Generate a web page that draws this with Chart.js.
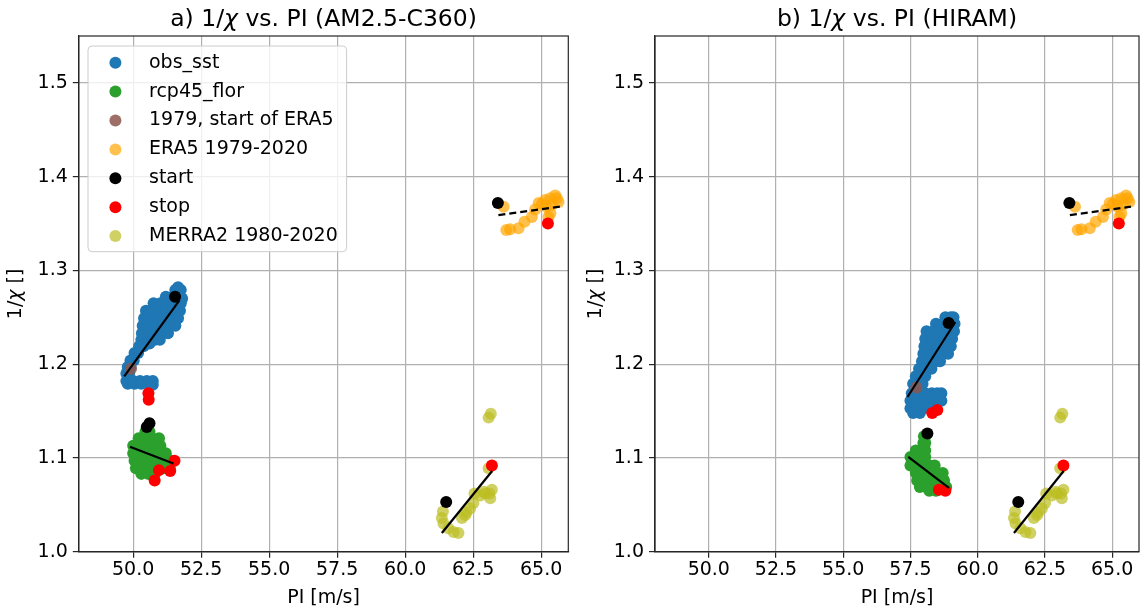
<!DOCTYPE html>
<html>
<head>
<meta charset="utf-8">
<script src="https://cdn.jsdelivr.net/npm/chart.js@4.4.1/dist/chart.umd.min.js"></script>
<style>
  body { margin: 0; background: #fff; }
  #wrap { position: relative; width: 1145px; height: 611px; }
  canvas { position: absolute; top: 0; }
</style>
</head>
<body>
<div id="wrap">
  <canvas id="panelA" width="575" height="611" style="left:0"></canvas>
  <canvas id="panelB" width="570" height="611" style="left:575px"></canvas>
</div>
<script>
// ---------- data: [PI (m/s), 1/chi] ----------
const xTicks = [50, 52.5, 55, 57.5, 60, 62.5, 65];
const yTicks = [1.0, 1.1, 1.2, 1.3, 1.4, 1.5];

// a) AM2.5-C360
const amObs = [
  [51.55,1.279],[51.75,1.279],[51.65,1.282],
  [51.2,1.272],[51.45,1.272],[51.7,1.272],[51.8,1.270],
  [50.75,1.265],[51.0,1.265],[51.25,1.265],[51.5,1.265],[51.75,1.265],
  [50.47,1.257],[50.7,1.257],[50.95,1.257],[51.2,1.257],[51.45,1.257],[51.72,1.257],
  [50.4,1.249],[50.65,1.249],[50.9,1.249],[51.15,1.249],[51.4,1.249],[51.65,1.249],
  [50.35,1.241],[50.6,1.241],[50.85,1.241],[51.1,1.241],[51.35,1.241],[51.55,1.241],
  [50.32,1.233],[50.55,1.233],[50.8,1.233],[51.05,1.233],[51.28,1.233],
  [50.3,1.226],[50.55,1.226],[50.8,1.226],[50.98,1.226],
  [50.22,1.219],[50.38,1.219],[50.6,1.222],
  [50.05,1.212],[50.18,1.212],
  [49.9,1.204],[50.02,1.204],
  [49.8,1.197],[49.9,1.197],
  [49.75,1.190],[49.85,1.190],
  [49.75,1.182],[50.0,1.182],[50.25,1.182],[50.5,1.182],[50.72,1.182],
  [49.8,1.179],[50.05,1.179],[50.3,1.179],[50.55,1.179],[50.72,1.178]
];
const amBrown = [[49.92,1.195]];
const amObsStart = [[51.54,1.272]];
const amObsStop = [[50.56,1.169],[50.57,1.162]];
const amRcp = [
  [50.45,1.128],[50.6,1.128],
  [50.2,1.121],[50.45,1.121],[50.7,1.121],[50.95,1.121],
  [50.0,1.113],[50.25,1.113],[50.5,1.113],[50.75,1.113],[51.0,1.113],
  [50.0,1.105],[50.25,1.105],[50.5,1.105],[50.75,1.105],[51.0,1.105],[51.2,1.105],
  [50.05,1.097],[50.3,1.097],[50.55,1.097],[50.8,1.097],[51.05,1.097],[51.3,1.097],[51.4,1.097],
  [50.1,1.089],[50.35,1.089],[50.6,1.089],[50.85,1.089],[51.1,1.089],[51.35,1.089],
  [50.3,1.083],[50.55,1.083],[50.8,1.083]
];
const amRcpStart = [[50.5,1.133],[50.6,1.137]];
const amRcpStop = [[50.95,1.087],[50.79,1.076],[51.52,1.097],[51.36,1.086]];
const amObsFit = [[49.67,1.187],[51.70,1.268]];
const amRcpFit = [[49.88,1.112],[51.48,1.094]];

// b) HIRAM
const hiObs = [
  [58.8,1.250],[59.0,1.250],[59.1,1.250],
  [58.45,1.243],[58.7,1.243],[58.95,1.243],[59.14,1.243],
  [58.1,1.235],[58.35,1.235],[58.6,1.235],[58.85,1.235],[59.12,1.235],
  [58.05,1.227],[58.3,1.227],[58.55,1.227],[58.8,1.227],[59.05,1.227],
  [58.02,1.219],[58.27,1.219],[58.52,1.219],[58.77,1.219],[59.0,1.219],
  [57.98,1.211],[58.23,1.211],[58.48,1.211],[58.73,1.211],[58.9,1.211],
  [57.93,1.203],[58.18,1.203],[58.43,1.203],[58.6,1.203],
  [57.82,1.195],[58.05,1.195],[58.28,1.195],
  [57.7,1.187],[57.9,1.187],[58.05,1.187],
  [57.6,1.179],[57.8,1.179],[57.95,1.179],
  [57.55,1.169],[57.8,1.169],[58.05,1.169],[58.3,1.169],[58.5,1.169],[58.65,1.169],
  [57.5,1.161],[57.75,1.161],[58.0,1.161],[58.25,1.161],[58.5,1.161],[58.65,1.161],
  [57.5,1.153],[57.75,1.153],[58.0,1.153],[58.25,1.153],[58.45,1.153],
  [57.6,1.148],[57.85,1.148]
];
const hiBrown = [[57.72,1.175]];
const hiObsStart = [[58.92,1.244]];
const hiObsStop = [[58.31,1.148],[58.5,1.151]];
const hiRcpStartUnder = [[58.01,1.112]];
const hiRcp = [
  [58.0,1.123],[58.05,1.123],
  [57.98,1.116],[58.05,1.116],
  [57.7,1.108],[57.95,1.108],[58.05,1.108],
  [57.5,1.101],[57.75,1.101],[58.0,1.101],[58.05,1.101],
  [57.5,1.092],[57.75,1.092],[58.0,1.092],[58.2,1.092],[58.4,1.092],
  [57.7,1.084],[57.95,1.084],[58.2,1.084],[58.45,1.084],[58.7,1.084],
  [57.75,1.076],[58.0,1.076],[58.25,1.076],[58.5,1.076],[58.75,1.076],
  [57.85,1.069],[58.1,1.069],[58.35,1.069],[58.6,1.069],[58.83,1.069],
  [58.2,1.065],[58.45,1.065]
];
const hiRcpStart = [[58.13,1.126]];
const hiRcpStop = [[58.56,1.066],[58.80,1.065]];
const hiObsFit = [[57.39,1.165],[59.17,1.245]];
const hiRcpFit = [[57.42,1.101],[58.93,1.068]];

// reanalyses (same in both panels)
const era5 = [
  [63.62,1.368],[63.72,1.343],[63.86,1.344],[64.17,1.345],[64.39,1.352],[64.66,1.357],
  [64.78,1.365],[64.91,1.372],[65.03,1.371],[65.15,1.375],[65.21,1.368],[65.34,1.377],
  [65.40,1.370],[65.52,1.380],[65.64,1.373],[65.58,1.377],[65.34,1.361],[65.27,1.357]
];
const era5Start = [[63.41,1.372]];
const era5Stop = [[65.25,1.350]];
const era5Fit = [[63.43,1.359],[65.70,1.368]];
const merra = [
  [63.15,1.147],[63.07,1.143],[63.07,1.089],[63.19,1.066],[63.13,1.057],[63.1,1.062],
  [62.95,1.062],[62.9,1.064],[62.76,1.060],[62.55,1.062],[62.51,1.052],[62.39,1.046],
  [62.25,1.042],[62.21,1.039],[62.09,1.036],[61.96,1.020],[61.78,1.021],[61.59,1.025],
  [61.41,1.030],[61.35,1.036],[61.39,1.043]
];
const merraStart = [[61.51,1.053]];
const merraStop = [[63.19,1.092]];
const merraFit = [[61.35,1.020],[63.20,1.086]];

// ---------- styles ----------
const FONT = 'DejaVu Sans';
const C_OBS = '#1f77b4', C_RCP = '#2ca02c', C_BROWN = 'rgba(140,86,75,0.85)';
const C_ERA5 = 'rgba(255,165,0,0.7)', C_MERRA = 'rgba(188,189,34,0.7)';

const legendItems = [
  ['obs_sst', C_OBS], ['rcp45_flor', C_RCP], ['1979, start of ERA5', C_BROWN],
  ['ERA5 1979-2020', C_ERA5], ['start', '#000'], ['stop', '#ff0000'], ['MERRA2 1980-2020', C_MERRA]
];

function pts(arr) { return arr.map(p => ({ x: p[0], y: p[1] })); }

function dots(arr, color) {
    return { data: pts(arr), backgroundColor: color, borderWidth: 0, pointRadius: 6, pointHoverRadius: 6 };
}
function fit(arr, dashed) {
    return { data: pts(arr), showLine: true, borderColor: '#000', borderWidth: 2.2,
             borderDash: dashed ? [7, 4] : [], pointRadius: 0, fill: false };
}

// bottom -> top; Chart.js draws high "order" first
function stack(list) {
    return list.map((d, i) => Object.assign(d, { order: list.length - i }));
}

function drawText(ctx, parts, x, y, size, align) {
    let w = 0;
    parts.forEach(p => { ctx.font = (p[1] ? 'italic ' : '') + size + 'px "' + FONT + '"'; w += ctx.measureText(p[0]).width; });
    let cx = align === 'center' ? x - w / 2 : x;
    ctx.textAlign = 'left';
    parts.forEach(p => {
        ctx.font = (p[1] ? 'italic ' : '') + size + 'px "' + FONT + '"';
        ctx.fillText(p[0], cx, y);
        cx += ctx.measureText(p[0]).width;
    });
}

function framePlugin(opts) {
    return {
        id: 'frame',
        afterDraw(chart) {
            const ctx = chart.ctx, a = chart.chartArea;
            ctx.save();
            ctx.strokeStyle = '#262626';
            ctx.lineWidth = 1.2;
            ctx.strokeRect(a.left, a.top, a.right - a.left, a.bottom - a.top);

            ctx.fillStyle = '#000';
            ctx.textBaseline = 'alphabetic';
            const cx = (a.left + a.right) / 2;
            drawText(ctx, opts.title, cx, 25.5, 23.5, 'center');
            drawText(ctx, [['PI [m/s]', false]], cx, 602.5, 19, 'center');

            ctx.save();
            ctx.translate(opts.yLabelX, (a.top + a.bottom) / 2);
            ctx.rotate(-Math.PI / 2);
            ctx.textBaseline = 'middle';
            drawText(ctx, [['1/', false], ['χ', true], [' []', false]], 0, 0, 19, 'center');
            ctx.restore();

            if (opts.legend) {
                ctx.fillStyle = 'rgba(255,255,255,0.8)';
                ctx.strokeStyle = '#cccccc';
                ctx.lineWidth = 1;
                ctx.beginPath();
                ctx.roundRect(88, 46, 258.6, 205.7, 4);
                ctx.fill();
                ctx.stroke();
                ctx.textBaseline = 'middle';
                legendItems.forEach((it, i) => {
                    const y = 62.7 + i * 28.9;
                    ctx.fillStyle = it[1];
                    ctx.beginPath();
                    ctx.arc(115.4, y, 6, 0, Math.PI * 2);
                    ctx.fill();
                    ctx.fillStyle = '#000';
                    ctx.font = '19px "' + FONT + '"';
                    ctx.fillText(it[0], 149, y);
                });
            }
            ctx.restore();
        }
    };
}

function makePanel(id, opts) {
    const ctx = document.getElementById(id).getContext('2d');
    const tickFont = { family: FONT, size: 19 };
    const grid = { color: '#b0b0b0', lineWidth: 1.2, tickColor: '#262626', tickLength: 6, tickWidth: 1.2 };
    return new Chart(ctx, {
        type: 'scatter',
        data: { datasets: opts.datasets },
        options: {
            responsive: false,
            animation: false,
            devicePixelRatio: 1,
            layout: { padding: { left: 0, top: 36, right: opts.padRight, bottom: 0 } },
            plugins: { legend: { display: false }, tooltip: { enabled: false }, title: { display: false } },
            scales: {
                x: {
                    type: 'linear', min: 48, max: 66,
                    afterBuildTicks: ax => { ax.ticks = xTicks.map(v => ({ value: v })); },
                    afterFit: ax => { ax.height = 59.3; },
                    ticks: { font: tickFont, color: '#000', padding: 1, autoSkip: false, maxRotation: 0,
                             callback: v => v.toFixed(1) },
                    grid: grid,
                    border: { display: true, color: '#262626', width: 1.2 }
                },
                y: {
                    type: 'linear', min: 1.0, max: 1.55,
                    afterBuildTicks: ax => { ax.ticks = yTicks.map(v => ({ value: v })); },
                    afterFit: ax => { ax.width = opts.yAxisWidth; },
                    ticks: { font: tickFont, color: '#000', padding: 5, callback: v => v.toFixed(1) },
                    grid: grid,
                    border: { display: true, color: '#262626', width: 1.2 }
                }
            }
        },
        plugins: [framePlugin(opts)]
    });
}

function reanalysisSets() {
    return [
        dots(era5, C_ERA5), dots(era5Start, '#000'), dots(era5Stop, '#ff0000'),
        dots(merra, C_MERRA), dots(merraStart, '#000'), dots(merraStop, '#ff0000'),
        fit(era5Fit, true), fit(merraFit, false)
    ];
}

makePanel('panelA', {
    padRight: 6.7, yAxisWidth: 78.8, yLabelX: 16.5, legend: true,
    title: [['a) 1/', false], ['χ', true], [' vs. PI (AM2.5-C360)', false]],
    datasets: stack([
        dots(amObs, C_OBS), dots(amBrown, C_BROWN), dots(amObsStart, '#000'), dots(amObsStop, '#ff0000'),
        dots(amRcp, C_RCP), dots(amRcpStart, '#000'), dots(amRcpStop, '#ff0000'),
        fit(amObsFit, false), fit(amRcpFit, false)
    ].concat(reanalysisSets()))
});

makePanel('panelB', {
    padRight: 0.7, yAxisWidth: 80, yLabelX: 20.7, legend: false,
    title: [['b) 1/', false], ['χ', true], [' vs. PI (HIRAM)', false]],
    datasets: stack([
        dots(hiObs, C_OBS), dots(hiBrown, C_BROWN), dots(hiObsStart, '#000'), dots(hiObsStop, '#ff0000'),
        dots(hiRcpStartUnder, '#000'),
        dots(hiRcp, C_RCP), dots(hiRcpStart, '#000'), dots(hiRcpStop, '#ff0000'),
        fit(hiObsFit, false), fit(hiRcpFit, false)
    ].concat(reanalysisSets()))
});
</script>
</body>
</html>
